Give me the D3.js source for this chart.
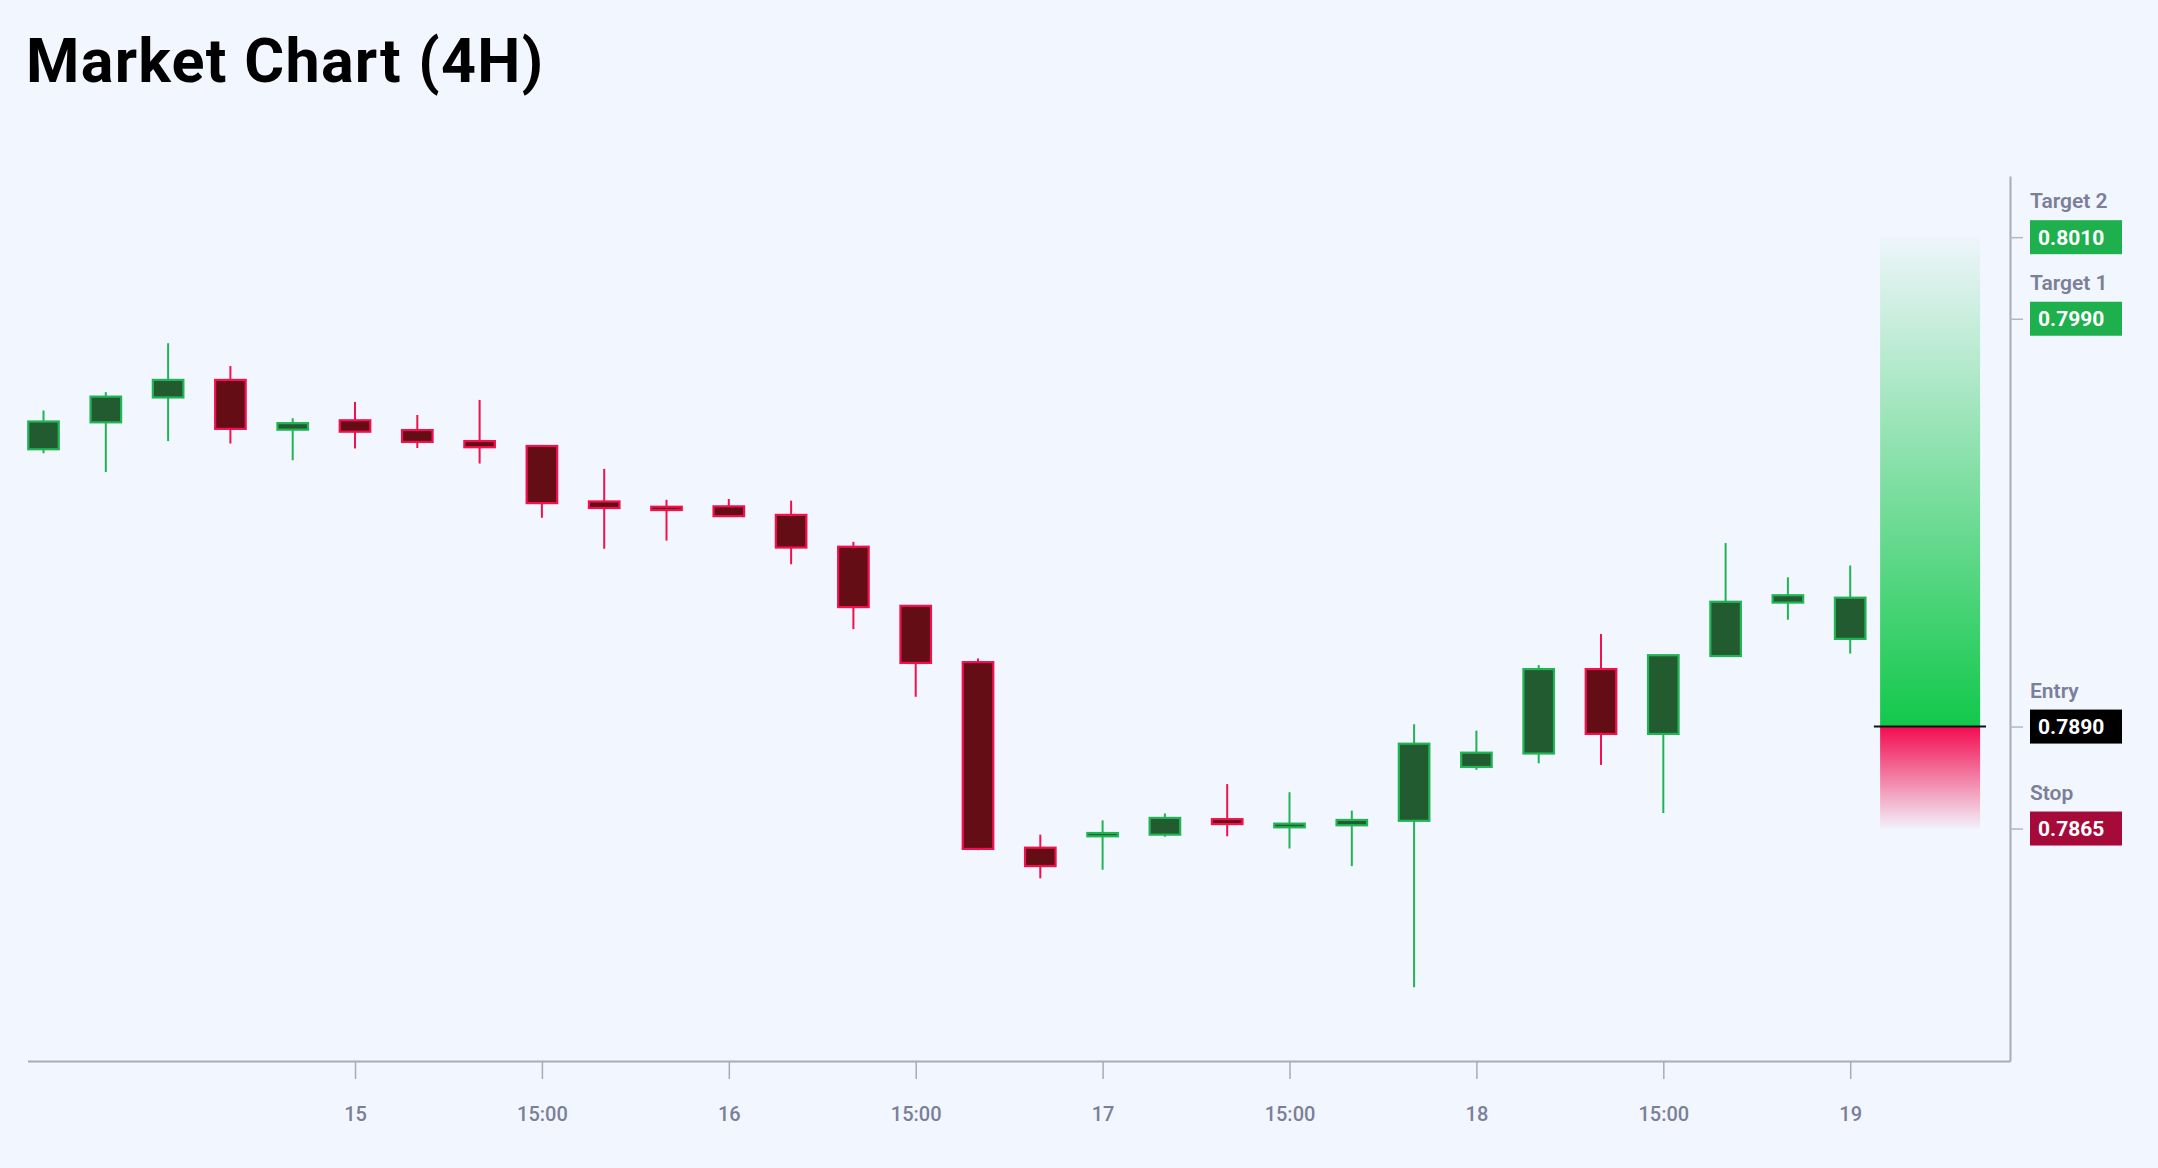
<!DOCTYPE html>
<html>
<head>
<meta charset="utf-8">
<script src="https://cdn.jsdelivr.net/npm/d3@7/dist/d3.min.js"></script>
<style>
  html, body { margin: 0; padding: 0; background: #f2f6fe; }
  svg { display: block; font-family: Roboto, "Noto Sans", sans-serif; }
</style>
</head>
<body>
<svg id="chart" width="2158" height="1168"></svg>
<script>
// ---- data (4H candles) ----
const opens  = [0.79580,0.79646,0.79707,0.79750,0.79628,0.79651,0.79627,0.79600,0.79588,0.79452,
                0.79439,0.79440,0.79419,0.79341,0.79196,0.79058,0.78603,0.78631,0.78635,0.78673,
                0.78653,0.78658,0.78669,0.78801,0.78834,0.79041,0.78882,0.79073,0.79204,0.79115];
const highs  = [0.79675,0.79720,0.79840,0.79784,0.79656,0.79696,0.79664,0.79701,0.79588,0.79532,
                0.79456,0.79458,0.79454,0.79353,0.79196,0.79067,0.78635,0.78670,0.78687,0.78759,
                0.78739,0.78694,0.78906,0.78890,0.79051,0.79127,0.79077,0.79350,0.79266,0.79295];
const lows   = [0.79570,0.79524,0.79600,0.79594,0.79553,0.79582,0.79583,0.79545,0.79412,0.79336,
                0.79356,0.79415,0.79298,0.79139,0.78973,0.78597,0.78528,0.78549,0.78630,0.78631,
                0.78601,0.78558,0.78261,0.78794,0.78810,0.78806,0.78688,0.79073,0.79162,0.79079];
const closes = [0.79648,0.79709,0.79750,0.79630,0.79644,0.79623,0.79598,0.79585,0.79448,0.79436,
                0.79431,0.79416,0.79339,0.79193,0.79056,0.78600,0.78558,0.78639,0.78676,0.78661,
                0.78662,0.78671,0.78858,0.78836,0.79041,0.78882,0.79075,0.79206,0.79222,0.79216];

const tickIndex  = [5, 8, 11, 14, 17, 20, 23, 26, 29];
const tickLabels = ["15", "15:00", "16", "15:00", "17", "15:00", "18", "15:00", "19"];

const levelNames  = ["Target 2", "Target 1", "Entry", "Stop"];
const levelValues = [0.8010, 0.7990, 0.7890, 0.7865];
const levelColors = ["#1db04d", "#1db04d", "#000000", "#a60a39"];

const entryPrice = 0.7890, stopPrice = 0.7865, targetPrice = 0.8010;

// ---- layout ----
const W = 2158, H = 1168;
const plotLeft = 27.5, plotRight = 2010, plotTop = 176, plotBottom = 1061;

const candles = opens.map((o, i) => ({ i, o, h: highs[i], l: lows[i], c: closes[i] }));

const x = d3.scaleLinear().domain([-0.257, 31.565]).range([plotLeft, plotRight]);
const y = d3.scaleLinear().domain([0.7808, 0.8025]).range([plotBottom, plotTop]);
const step = x(1) - x(0);
const bodyW = step * 0.49;

const svg = d3.select("#chart");

// title
svg.append("text")
  .attr("x", 26).attr("y", 81.5)
  .attr("font-size", 61).attr("font-weight", 700).attr("fill", "#000")
  .attr("letter-spacing", 1.3)
  .text("Market Chart (4H)");

// gradients
const defs = svg.append("defs");
const gG = defs.append("linearGradient").attr("id", "gGreen").attr("x1", 0).attr("y1", 1).attr("x2", 0).attr("y2", 0);
gG.append("stop").attr("offset", "0%").attr("stop-color", "#12c84b").attr("stop-opacity", 1);
gG.append("stop").attr("offset", "100%").attr("stop-color", "#12c84b").attr("stop-opacity", 0.02);
const gR = defs.append("linearGradient").attr("id", "gRed").attr("x1", 0).attr("y1", 0).attr("x2", 0).attr("y2", 1);
gR.append("stop").attr("offset", "0%").attr("stop-color", "#f20c4f").attr("stop-opacity", 1);
gR.append("stop").attr("offset", "100%").attr("stop-color", "#f20c4f").attr("stop-opacity", 0.02);

// candles
const upStroke = "#20b455", upFill = "#235b30", dnStroke = "#f2104e", dnFill = "#650d14";
const g = svg.append("g");
g.selectAll("line.wick").data(candles).join("line")
  .attr("class", "wick")
  .attr("x1", d => x(d.i)).attr("x2", d => x(d.i))
  .attr("y1", d => y(d.h)).attr("y2", d => y(d.l))
  .attr("stroke", d => d.c >= d.o ? upStroke : dnStroke)
  .attr("stroke-width", 2);
g.selectAll("rect.body").data(candles).join("rect")
  .attr("class", "body")
  .attr("x", d => x(d.i) - bodyW / 2)
  .attr("width", bodyW)
  .attr("y", d => y(Math.max(d.o, d.c)))
  .attr("height", d => Math.max(1, Math.abs(y(d.o) - y(d.c))))
  .attr("fill", d => d.c >= d.o ? upFill : dnFill)
  .attr("stroke", d => d.c >= d.o ? upStroke : dnStroke)
  .attr("stroke-width", 2.2);

// projection zone
const zx0 = x(29.48), zx1 = x(31.085);
svg.append("rect")
  .attr("x", zx0).attr("width", zx1 - zx0)
  .attr("y", y(targetPrice)).attr("height", y(entryPrice) - y(targetPrice))
  .attr("fill", "url(#gGreen)");
svg.append("rect")
  .attr("x", zx0).attr("width", zx1 - zx0)
  .attr("y", y(entryPrice)).attr("height", y(stopPrice) - y(entryPrice))
  .attr("fill", "url(#gRed)");
svg.append("line")
  .attr("x1", x(29.38)).attr("x2", x(31.18))
  .attr("y1", y(entryPrice)).attr("y2", y(entryPrice))
  .attr("stroke", "#111").attr("stroke-width", 2);

// x axis
const xAxis = d3.axisBottom(x)
  .tickValues(tickIndex)
  .tickFormat((d, k) => tickLabels[k])
  .tickSize(18).tickSizeOuter(0).tickPadding(28);
const gx = svg.append("g").attr("transform", `translate(0,${plotBottom})`).call(xAxis);
gx.select(".domain").attr("stroke", "#a9abb7").attr("stroke-width", 2);
gx.selectAll(".tick line").attr("stroke", "#a9abb7").attr("stroke-width", 1.5);
gx.selectAll(".tick text").attr("font-size", 20).attr("font-weight", 500)
  .attr("fill", "#7b7f99").attr("font-family", "Roboto, sans-serif");

// right axis
const yAxis = d3.axisRight(y)
  .tickValues(levelValues)
  .tickFormat("")
  .tickSize(13).tickSizeOuter(0);
const gy = svg.append("g").attr("transform", `translate(${plotRight},0)`).call(yAxis);
gy.select(".domain").attr("stroke", "#a9abb7").attr("stroke-width", 2);
gy.selectAll(".tick line").attr("stroke", "#b4b6c2").attr("stroke-width", 1.5);

// level labels
const lv = svg.append("g").selectAll("g").data(levelValues).join("g")
  .attr("transform", d => `translate(${plotRight + 20},${y(d)})`);
lv.append("text")
  .attr("x", 0).attr("y", -29)
  .attr("font-size", 21).attr("font-weight", 600).attr("fill", "#7b7f99")
  .text((d, k) => levelNames[k]);
lv.append("rect")
  .attr("x", 0).attr("y", -17).attr("width", 92).attr("height", 34)
  .attr("fill", (d, k) => levelColors[k]);
lv.append("text")
  .attr("x", 8).attr("y", 7.5)
  .attr("font-size", 21).attr("font-weight", 700).attr("fill", "#fff")
  .text(d => d3.format(".4f")(d));
</script>
</body>
</html>
